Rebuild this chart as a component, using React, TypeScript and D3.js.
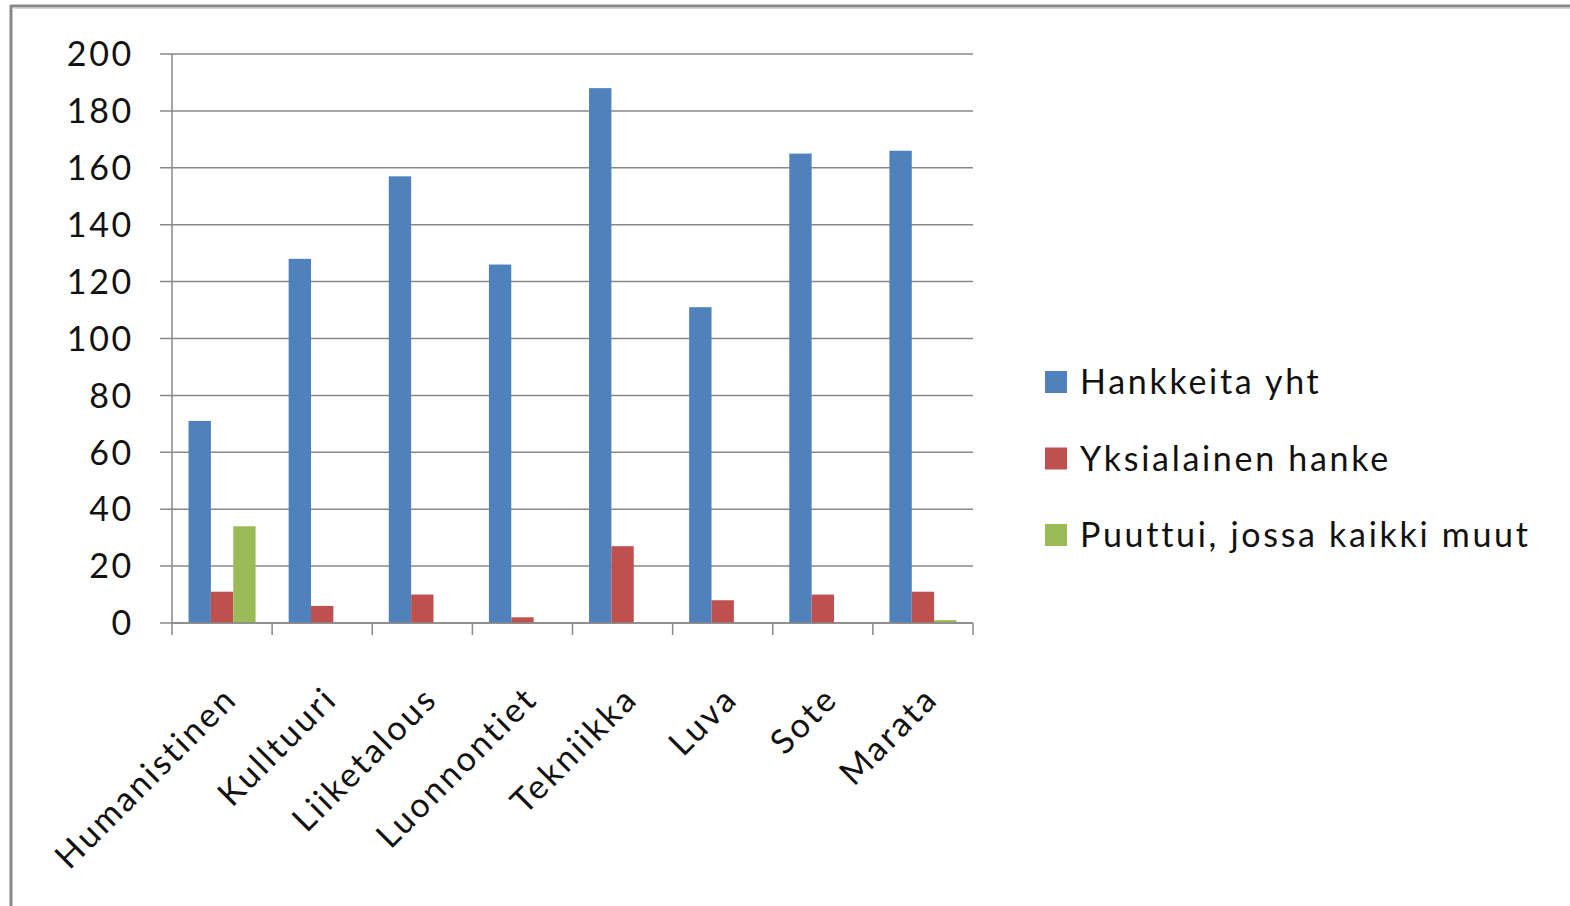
import * as d3 from 'd3'

const categories = ['Humanistinen', 'Kulttuuri', 'Liiketalous', 'Luonnontiet', 'Tekniikka', 'Luva', 'Sote', 'Marata']
const categoryLabels = ['Humanistinen', 'Kulltuuri', 'Liiketalous', 'Luonnontiet', 'Tekniikka', 'Luva', 'Sote', 'Marata']
const seriesNames = ['Hankkeita yht', 'Yksialainen hanke', 'Puuttui, jossa kaikki muut']
const hankkeita = [71, 128, 157, 126, 188, 111, 165, 166]
const yksialainen = [11, 6, 10, 2, 27, 8, 10, 11]
const puuttui = [34, 0, 0, 0, 0, 0, 0, 1]
const yTicks = [0, 20, 40, 60, 80, 100, 120, 140, 160, 180, 200]
const colors = ['#4f81bd', '#c0504d', '#9bbb59']

const W = 1570
const H = 906
const left = 172
const right = 973
const top = 54
const bottom = 623
const font = 'Lato, "Open Sans", sans-serif'
const fontSize = 34
const spacing = 2.7
const gray = '#888888'

export default function App() {
  const series = [hankkeita, yksialainen, puuttui]
  const x = d3.scaleBand<string>().domain(categories).range([left, right])
  const inner = d3
    .scaleBand<number>()
    .domain([0, 1, 2])
    .range([0, x.bandwidth()])
    .paddingOuter(0.74)
    .paddingInner(0)
  const y = d3.scaleLinear().domain([0, 200]).range([bottom, top])

  const boundaries = categories.map((c) => x(c)!).concat([right])

  return (
    <div style={{ position: 'absolute', left: 0, top: 0 }}>
      <svg width={W} height={H} style={{ display: 'block', background: '#fff' }}>
        {/* frame */}
        <line x1={11} x2={11} y1={5} y2={H} stroke={gray} strokeWidth={3} />
        <line x1={10} x2={W} y1={6} y2={6} stroke={gray} strokeWidth={3} />
        <line x1={12} x2={W} y1={8.5} y2={8.5} stroke="#d8d8d8" strokeWidth={1} />

        {/* gridlines + y ticks */}
        {yTicks.map((t) => (
          <g key={t}>
            <line x1={left - 12} x2={right} y1={y(t)} y2={y(t)} stroke={gray} strokeWidth={1.5} />
            <text
              x={134}
              y={y(t)}
              dy="0.36em"
              textAnchor="end"
              fontFamily={font}
              fontSize={fontSize}
              letterSpacing={spacing}
              fill="#111"
            >
              {t}
            </text>
          </g>
        ))}

        {/* bars */}
        {series.map((vals, si) =>
          vals.map((v, i) =>
            v > 0 ? (
              <rect
                key={`${si}-${i}`}
                x={x(categories[i])! + inner(si)!}
                y={y(v)}
                width={inner.bandwidth()}
                height={y(0) - y(v)}
                fill={colors[si]}
              />
            ) : null
          )
        )}

        {/* axes */}
        <line x1={left} x2={left} y1={top} y2={bottom} stroke={gray} strokeWidth={1.5} />
        <line x1={left} x2={right} y1={bottom} y2={bottom} stroke={gray} strokeWidth={1.5} />
        {boundaries.map((bx, i) => (
          <line key={i} x1={bx} x2={bx} y1={bottom} y2={bottom + 12} stroke={gray} strokeWidth={1.5} />
        ))}

        {/* x labels */}
        {categories.map((c, i) => {
          const cx = x(c)! + x.bandwidth() / 2
          return (
            <text
              key={c}
              transform={`translate(${cx + 17},${bottom + 78}) rotate(-45)`}
              textAnchor="end"
              fontFamily={font}
              fontSize={fontSize}
              letterSpacing={spacing}
              fill="#111"
            >
              {categoryLabels[i]}
            </text>
          )
        })}

        {/* legend */}
        {seriesNames.map((s, i) => {
          const ly = 382 + i * 76.5
          return (
            <g key={s}>
              <rect x={1045} y={ly - 11} width={22} height={22} fill={colors[i]} />
              <text
                x={1080}
                y={ly}
                dy="0.36em"
                fontFamily={font}
                fontSize={fontSize}
                letterSpacing={spacing}
                fill="#111"
              >
                {s}
              </text>
            </g>
          )
        })}
      </svg>
    </div>
  )
}
